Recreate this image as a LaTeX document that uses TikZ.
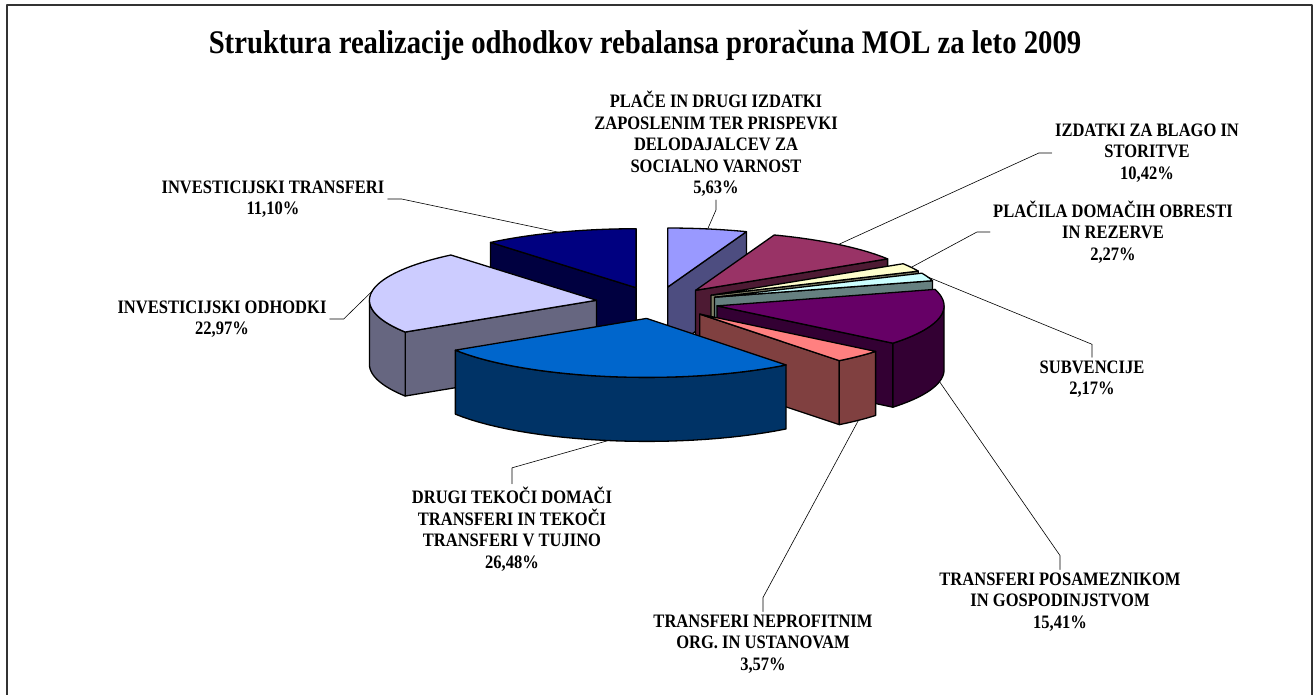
\documentclass[tikz,border=0pt]{standalone}
\usepackage{fontspec}
\setmainfont{Liberation Serif}[FakeStretch=0.87]
\definecolor{placeT}{HTML}{9999FF}\definecolor{placeS}{HTML}{4D4D80}
\definecolor{blagoT}{HTML}{993366}\definecolor{blagoS}{HTML}{4D1A33}
\definecolor{obrestT}{HTML}{FFFFCC}\definecolor{obrestS}{HTML}{808066}
\definecolor{subvT}{HTML}{CCFFFF}\definecolor{subvS}{HTML}{668080}
\definecolor{posamT}{HTML}{660066}\definecolor{posamS}{HTML}{330033}
\definecolor{neprofT}{HTML}{FF8080}\definecolor{neprofS}{HTML}{804040}
\definecolor{drugiT}{HTML}{0066CC}\definecolor{drugiS}{HTML}{003366}
\definecolor{invodT}{HTML}{CCCCFF}\definecolor{invodS}{HTML}{666680}
\definecolor{invtrT}{HTML}{000080}\definecolor{invtrS}{HTML}{000040}
\begin{document}
\begin{tikzpicture}[x=1pt, y=-1pt, line join=round, line cap=round,
	lbl/.style={font=\bfseries\fontsize{19}{21.5}\selectfont, align=center, inner sep=3pt},
	edge/.style={draw=black, line width=1.3pt},
	lead/.style={draw=black, line width=.6pt}]
		\useasboundingbox (0,0) rectangle (1315,695);
		\draw[line width=1.6pt, draw=black!80] (7,5) rectangle (1312,702);
		\node (title) at (645,45) {\fontsize{33}{36}\selectfont\bfseries Struktura realizacije odhodkov rebalansa proračuna MOL za leto 2009};
		% pie: centre, radii, height, explosion
		\def\cx{657}\def\cy{302.7}\def\ra{227}\def\rb{59}\def\dep{64}\def\ex{.27}
		\def\vtx#1{\pgfmathsetmacro\vx{\cx+\ex*\ra*sin(#1)}\pgfmathsetmacro\vy{\cy-\ex*\rb*cos(#1)}}
		\def\topf#1#2#3{\filldraw[edge, fill=#3] (\vx,\vy) -- plot[domain=#1:#2, samples=40] ({\vx+\ra*sin(\x)}, {\vy-\rb*cos(\x)}) -- cycle;}
		\def\cutf#1#2{\filldraw[edge, fill=#2] (\vx,\vy) -- ({\vx+\ra*sin(#1)}, {\vy-\rb*cos(#1)}) -- ++(0,\dep) -- (\vx,\vy+\dep) -- cycle;}
		\def\rimf#1#2#3{\filldraw[edge, fill=#3] plot[domain=#1:#2, samples=30] ({\vx+\ra*sin(\x)}, {\vy-\rb*cos(\x)}) -- plot[domain=#2:#1, samples=30] ({\vx+\ra*sin(\x)}, {\vy+\dep-\rb*cos(\x)}) -- cycle;}
		\def\edgept#1#2#3{\coordinate (#1) at ({\vx+\ra*sin(#2)}, {\vy+#3-\rb*cos(#2)});}
		% slices, back to front
		\vtx{10.13} \cutf{20.27}{placeS} \topf{0}{20.27}{placeT} \edgept{pplace}{10.13}{0}
		\vtx{340.06} \cutf{320.11}{invtrS} \topf{320.11}{360}{invtrT} \edgept{pinvtr}{340.06}{0}
		\vtx{39.02} \cutf{57.78}{blagoS} \topf{20.27}{57.78}{blagoT} \edgept{pblago}{39.02}{0}
		\vtx{61.87} \cutf{65.95}{obrestS} \topf{57.78}{65.95}{obrestT} \edgept{pobrest}{61.87}{0}
		\vtx{69.85} \cutf{73.76}{subvS} \topf{65.95}{73.76}{subvT} \edgept{psubv}{69.85}{0}
		\vtx{278.77} \cutf{237.42}{invodS} \rimf{237.42}{270}{invodS} \topf{237.42}{320.11}{invodT} \edgept{pinvod}{278.77}{0}
		\vtx{101.5} \cutf{129.24}{posamS} \rimf{90}{129.24}{posamS} \topf{73.76}{129.24}{posamT} \edgept{pposam}{101.5}{\dep}
		\vtx{135.67} \cutf{142.09}{neprofS} \rimf{129.24}{142.09}{neprofS} \topf{129.24}{142.09}{neprofT} \edgept{pneprof}{135.67}{\dep}
		\vtx{189.75} \rimf{142.09}{237.42}{drugiS} \topf{142.09}{237.42}{drugiT} \edgept{pdrugi}{189.75}{\dep}
		% labels
		\node[lbl] (lplace) at (716,144) {PLAČE IN DRUGI IZDATKI\\ZAPOSLENIM TER PRISPEVKI\\DELODAJALCEV ZA\\SOCIALNO VARNOST\\5,63\%};
		\node[lbl] (lblago) at (1147,153) {IZDATKI ZA BLAGO IN\\STORITVE\\10,42\%};
		\node[lbl] (lobrest) at (1113,232) {PLAČILA DOMAČIH OBRESTI\\IN REZERVE\\2,27\%};
		\node[lbl] (lsubv) at (1092,379) {SUBVENCIJE\\2,17\%};
		\node[lbl] (lposam) at (1060,602) {TRANSFERI POSAMEZNIKOM\\IN GOSPODINJSTVOM\\15,41\%};
		\node[lbl] (lneprof) at (763,644) {TRANSFERI NEPROFITNIM\\ORG. IN USTANOVAM\\3,57\%};
		\node[lbl] (ldrugi) at (512,529) {DRUGI TEKOČI DOMAČI\\TRANSFERI IN TEKOČI\\TRANSFERI V TUJINO\\26,48\%};
		\node[lbl] (linvod) at (222,319) {INVESTICIJSKI ODHODKI\\22,97\%};
		\node[lbl] (linvtr) at (273,199) {INVESTICIJSKI TRANSFERI\\11,10\%};
		% leader lines
		\draw[lead] (lplace.south) -- ++(0,10) -- (pplace);
		\draw[lead] (lblago.west) -- ++(-13,0) -- (pblago);
		\draw[lead] (lobrest.west) -- ++(-13,0) -- (pobrest);
		\draw[lead] (lsubv.north) -- ++(0,-13) -- (psubv);
		\draw[lead] (lposam.north) -- ++(0,-14) -- (pposam);
		\draw[lead] (lneprof.north) -- ++(0,-14) -- (pneprof);
		\draw[lead] (ldrugi.north) -- ++(0,-16) -- (pdrugi);
		\draw[lead] (linvod.east) -- ++(14,0) -- (pinvod);
		\draw[lead] (linvtr.east) -- ++(14,0) -- (pinvtr);
	\end{tikzpicture}
\end{document}
